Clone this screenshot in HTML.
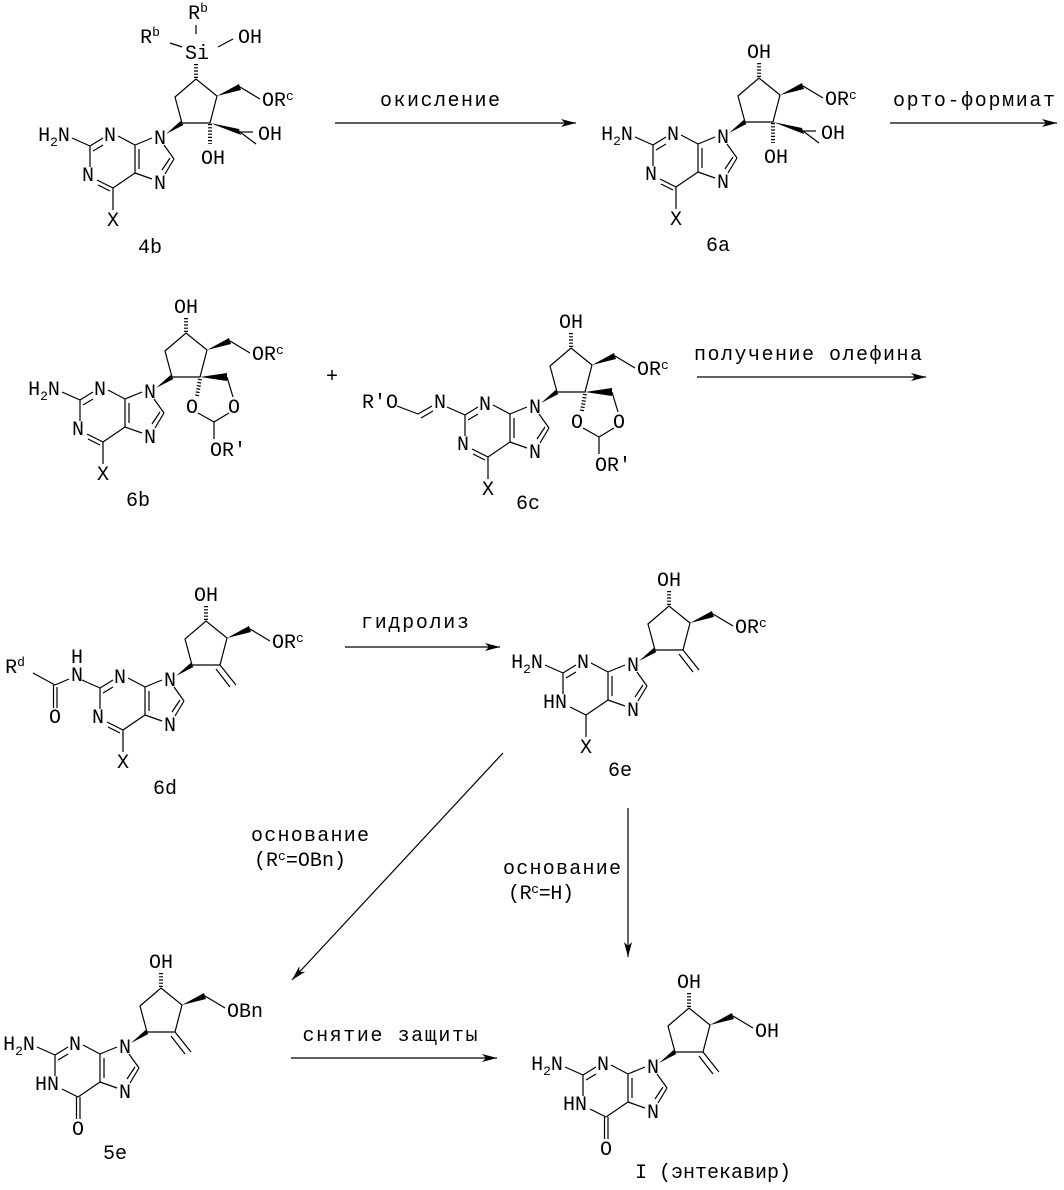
<!DOCTYPE html>
<html><head><meta charset="utf-8"><style>
html,body{margin:0;padding:0;background:#fff}
svg{display:block}
text{font-family:"Liberation Mono","DejaVu Sans Mono",monospace;font-size:20px;fill:#000;text-anchor:middle}
.t{font-size:20px}
.s{font-size:13px}
line,polyline,polygon.o{stroke:#000;stroke-width:1.2;fill:none}
.w{fill:#000;stroke:none}
.h{stroke-width:4;stroke-dasharray:1.2 2}
</style></head><body>
<svg width="1064" height="1190" viewBox="0 0 1064 1190" xmlns="http://www.w3.org/2000/svg">
<defs>
<marker id="ar" markerWidth="16" markerHeight="10" refX="15" refY="5" orient="auto" markerUnits="userSpaceOnUse">
<polygon points="0,1 15,5 0,9 4,5" class="w"/></marker>
<g id="pc">
<line x1="-88" y1="0" x2="-70" y2="8"/>
<line x1="-70" y1="8" x2="-57" y2="0"/><line x1="-67" y1="13" x2="-57" y2="7"/>
<line x1="-70" y1="8" x2="-70" y2="29"/>
<line x1="-42" y1="-2" x2="-25" y2="7"/>
<line x1="-25" y1="7" x2="-8" y2="0"/>
<line x1="-25" y1="7" x2="-25" y2="35"/><line x1="-21" y1="11" x2="-21" y2="31"/>
<line x1="-25" y1="35" x2="-47" y2="50"/>
<line x1="-25" y1="35" x2="-8" y2="41"/>
<line x1="4" y1="7" x2="14" y2="21"/>
<line x1="14" y1="21" x2="5" y2="36"/><line x1="10" y1="20" x2="2" y2="32"/>
</g>
<g id="pX"><use href="#pc"/>
<line x1="-63" y1="42" x2="-47" y2="50"/><line x1="-62" y1="47" x2="-50" y2="53"/>
<line x1="-47" y1="50" x2="-47" y2="72"/></g>
<g id="pE"><use href="#pc"/>
<line x1="-63" y1="42" x2="-47" y2="50"/>
<line x1="-47" y1="50" x2="-47" y2="72"/></g>
<g id="pG"><use href="#pc"/>
<line x1="-63" y1="42" x2="-47" y2="50"/>
<line x1="-48.5" y1="50" x2="-48.5" y2="72"/><line x1="-45" y1="50" x2="-45" y2="72"/></g>
<g id="ring">
<polygon class="w" points="6,-4 20.6,-17 23.4,-13"/>
<polyline points="22,-15 50,-15 57,-42 36,-59 15,-41 22,-15"/>
<polygon class="w" points="57,-42 79,-54 81,-48"/>
<line x1="80" y1="-51" x2="100" y2="-39"/>
<line class="h" x1="36" y1="-60" x2="36" y2="-75"/>
</g>
<g id="meth"><line x1="50" y1="-15" x2="66" y2="5"/><line x1="46" y1="-11" x2="60" y2="7"/></g>
<g id="diol">
<line class="h" x1="50" y1="-14" x2="50" y2="6"/>
<polygon class="w" points="50,-15 79,-9 81,-3"/>
<line x1="80" y1="-6" x2="96" y2="6"/><line x1="80" y1="-6" x2="93" y2="-6"/>
</g>
<g id="spiro">
<polygon class="w" points="50,-15 77,-19 77,-11"/>
<line x1="77" y1="-15" x2="83" y2="5"/>
<line class="h" x1="50" y1="-13" x2="47" y2="4"/>
<line x1="48" y1="21" x2="64" y2="30"/><line x1="64" y1="30" x2="79" y2="21"/>
<line x1="64" y1="30" x2="64" y2="47"/>
</g>
</defs>

<!-- 4b -->
<g transform="translate(160,138)">
<use href="#pX"/><use href="#ring"/><use href="#diol"/>
<text x="-106" y="3">H<tspan class="s" dy="5">2</tspan><tspan dy="-5">N</tspan></text>
<text x="-50" y="3">N</text><text x="0" y="6">N</text><text x="-72" y="43">N</text><text x="0" y="51">N</text><text x="-47" y="88">X</text>
<text x="37" y="-79">Si</text>
<line x1="36" y1="-113" x2="36" y2="-104"/><line x1="10" y1="-95" x2="22" y2="-91"/><line x1="58" y1="-91" x2="73" y2="-99"/>
<text x="38" y="-119">R<tspan class="s" dy="-7">b</tspan></text>
<text x="-10" y="-95">R<tspan class="s" dy="-7">b</tspan></text>
<text x="90" y="-95">OH</text>
<text x="53" y="26">OH</text><text x="110" y="2">OH</text>
<text x="102" y="-32" style="text-anchor:start">OR<tspan class="s" dy="-6">c</tspan></text>
</g>
<text x="150" y="253">4b</text>

<!-- 6a -->
<g transform="translate(723,137)">
<use href="#pX"/><use href="#ring"/><use href="#diol"/>
<text x="-106" y="3">H<tspan class="s" dy="5">2</tspan><tspan dy="-5">N</tspan></text>
<text x="-50" y="3">N</text><text x="0" y="6">N</text><text x="-72" y="43">N</text><text x="0" y="51">N</text><text x="-47" y="88">X</text>
<text x="36" y="-79">OH</text>
<text x="53" y="26">OH</text><text x="110" y="2">OH</text>
<text x="102" y="-32" style="text-anchor:start">OR<tspan class="s" dy="-6">c</tspan></text>
</g>
<text x="718" y="251">6a</text>

<!-- 6b -->
<g transform="translate(150,392)">
<use href="#pX"/><use href="#ring"/><use href="#spiro"/>
<text x="-106" y="3">H<tspan class="s" dy="5">2</tspan><tspan dy="-5">N</tspan></text>
<text x="-50" y="3">N</text><text x="0" y="6">N</text><text x="-72" y="43">N</text><text x="0" y="51">N</text><text x="-47" y="88">X</text>
<text x="36" y="-79">OH</text>
<text x="42" y="21">O</text><text x="84" y="21">O</text><text x="78" y="64">OR'</text>
<text x="102" y="-32" style="text-anchor:start">OR<tspan class="s" dy="-6">c</tspan></text>
</g>
<text x="138" y="506">6b</text>
<text x="332" y="382">+</text>

<!-- 6c -->
<g transform="translate(535,407)">
<use href="#pX"/><use href="#ring"/><use href="#spiro"/>
<text x="-155" y="1">R'O</text><text x="-95" y="1">N</text>
<line x1="-138" y1="-1" x2="-117" y2="7"/><line x1="-117" y1="7" x2="-103" y2="-1"/><line x1="-114" y1="11" x2="-102" y2="4"/>
<text x="-50" y="3">N</text><text x="0" y="6">N</text><text x="-72" y="43">N</text><text x="0" y="51">N</text><text x="-47" y="88">X</text>
<text x="36" y="-79">OH</text>
<text x="42" y="21">O</text><text x="84" y="21">O</text><text x="78" y="64">OR'</text>
<text x="102" y="-32" style="text-anchor:start">OR<tspan class="s" dy="-6">c</tspan></text>
</g>
<text x="528" y="509">6c</text>

<!-- 6d -->
<g transform="translate(170,680)">
<use href="#pX"/><use href="#ring"/><use href="#meth"/>
<text x="-93" y="1">N</text><text x="-93" y="-17">H</text>
<line x1="-115" y1="5" x2="-101" y2="-1"/><line x1="-137" y1="-7" x2="-115" y2="5"/>
<line x1="-116.5" y1="5" x2="-116.5" y2="28"/><line x1="-113" y1="7" x2="-113" y2="28"/>
<text x="-115" y="43">O</text>
<text x="-155" y="-7">R<tspan class="s" dy="-7">d</tspan></text>
<text x="-50" y="3">N</text><text x="0" y="6">N</text><text x="-72" y="43">N</text><text x="0" y="51">N</text><text x="-47" y="88">X</text>
<text x="36" y="-79">OH</text>
<text x="102" y="-32" style="text-anchor:start">OR<tspan class="s" dy="-6">c</tspan></text>
</g>
<text x="165" y="794">6d</text>

<!-- 6e -->
<g transform="translate(633,665)">
<use href="#pE"/><use href="#ring"/><use href="#meth"/>
<text x="-106" y="3">H<tspan class="s" dy="5">2</tspan><tspan dy="-5">N</tspan></text>
<text x="-50" y="3">N</text><text x="0" y="6">N</text><text x="-78" y="43">HN</text><text x="0" y="51">N</text><text x="-47" y="88">X</text>
<text x="36" y="-79">OH</text>
<text x="102" y="-32" style="text-anchor:start">OR<tspan class="s" dy="-6">c</tspan></text>
</g>
<text x="620" y="776">6e</text>

<!-- 5e -->
<g transform="translate(125,1047)">
<use href="#pG"/><use href="#ring"/><use href="#meth"/>
<text x="-106" y="3">H<tspan class="s" dy="5">2</tspan><tspan dy="-5">N</tspan></text>
<text x="-50" y="3">N</text><text x="0" y="6">N</text><text x="-78" y="43">HN</text><text x="0" y="51">N</text><text x="-47" y="88">O</text>
<text x="36" y="-79">OH</text>
<text x="102" y="-30" style="text-anchor:start">OBn</text>
</g>
<text x="115" y="1159">5e</text>

<!-- I -->
<g transform="translate(653,1067)">
<use href="#pG"/><use href="#ring"/><use href="#meth"/>
<text x="-106" y="3">H<tspan class="s" dy="5">2</tspan><tspan dy="-5">N</tspan></text>
<text x="-50" y="3">N</text><text x="0" y="6">N</text><text x="-78" y="43">HN</text><text x="0" y="51">N</text><text x="-47" y="88">O</text>
<text x="36" y="-79">OH</text>
<text x="102" y="-30" style="text-anchor:start">OH</text>
</g>
<text x="713" y="1178">I (энтекавир)</text>

<!-- arrows -->
<line x1="335" y1="123" x2="576" y2="123" marker-end="url(#ar)"/>
<text class="t" x="440" y="106" textLength="120">окисление</text>
<line x1="890" y1="123" x2="1057" y2="123" marker-end="url(#ar)"/>
<text class="t" x="974" y="106" textLength="162">орто-формиат</text>
<line x1="697" y1="377" x2="926" y2="377" marker-end="url(#ar)"/>
<text class="t" x="808" y="360" textLength="228">получение олефина</text>
<line x1="345" y1="647" x2="500" y2="647" marker-end="url(#ar)"/>
<text class="t" x="415" y="628" textLength="108">гидролиз</text>
<line x1="503" y1="753" x2="292" y2="980" marker-end="url(#ar)"/>
<text class="t" x="310" y="841" textLength="118">основание</text>
<text class="t" x="300" y="866" textLength="92">(R<tspan class="s" dy="-6">c</tspan><tspan dy="6">=OBn)</tspan></text>
<line x1="628" y1="808" x2="628" y2="957" marker-end="url(#ar)"/>
<text class="t" x="562" y="874" textLength="118">основание</text>
<text class="t" x="541" y="899" textLength="66">(R<tspan class="s" dy="-6">c</tspan><tspan dy="6">=H)</tspan></text>
<line x1="291" y1="1058" x2="497" y2="1058" marker-end="url(#ar)"/>
<text class="t" x="390" y="1041" textLength="175">снятие защиты</text>
</svg>
</body></html>
